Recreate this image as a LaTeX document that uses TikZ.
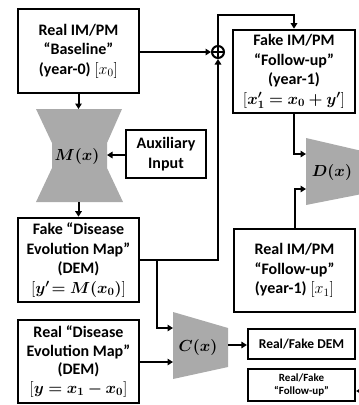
\RequirePackage{fix-cm}
\documentclass[tikz,border=0pt]{standalone}
\usepackage{amsmath,bm}
\usepackage[no-math]{fontspec}
\setmainfont{Carlito}
\usetikzlibrary{arrows.meta}
\definecolor{shapegray}{RGB}{170,170,170}
\tikzset{
  box/.style={draw, line width=2.6pt, inner sep=0pt, align=center,
    font=\bfseries\fontsize{16}{19.5}\selectfont},
  conn/.style={line width=2pt, -{Triangle[length=5.5pt,width=6.5pt]}},
  plain/.style={line width=2pt},
  lbl/.style={font=\fontsize{16}{19}\selectfont, inner sep=0pt},
  shp/.style={fill=shapegray, draw=none},
}
\begin{document}
\begin{tikzpicture}[x=1pt,y=-1pt]
\useasboundingbox (0,0) rectangle (359,405);

% boxes
\node[box, minimum width=121, minimum height=84] (base) at (78.5,51)
  {Real IM/PM\\“Baseline”\\(year-0) $[x_0]$};
\node[box, minimum width=122, minimum height=83] (fakefu) at (294,71.5)
  {Fake IM/PM\\“Follow-up”\\(year-1)\\$[\bm{x_1' = x_0 + y'}]$};
\node[box, minimum width=80, minimum height=48] (aux) at (166,154)
  {Auxiliary\\Input};
\node[box, minimum width=121, minimum height=84] (fakedem) at (78.5,260)
  {Fake “Disease\\Evolution Map”\\(DEM)\\$[\bm{y'\!= M(x_0)}]$};
\node[box, minimum width=121, minimum height=83] (realfu) at (294.5,270.5)
  {Real IM/PM\\“Follow-up”\\(year-1) $[x_1]$};
\node[box, minimum width=121, minimum height=83,
  font=\bfseries\fontsize{16}{18.5}\selectfont] (realdem) at (78.5,361.5)
  {Real “Disease\\Evolution Map”\\(DEM)\\$[\bm{y = x_1 - x_0}]$};
\node[box, line width=2.2pt, minimum width=107, minimum height=30,
  font=\bfseries\fontsize{13.5}{16}\selectfont] (rfdem) at (301.5,344)
  {Real/Fake DEM};
\node[box, line width=2.2pt, minimum width=107, minimum height=32,
  font=\bfseries\fontsize{11}{12.5}\selectfont] (rffu) at (301.5,385)
  {Real/Fake\\“Follow-up”};

% network shapes
\fill[shp] (36,109) -- (122,109) -- (107,143) -- (107,168) -- (123,202)
  -- (36,202) -- (52,168) -- (52,143) -- cycle;
\node[lbl] (mx) at (77,156) {$\bm{M(x)}$};
\fill[shp] (173,312) -- (228,328) -- (228,367) -- (173,379) -- cycle;
\node[lbl] (cx) at (198,347) {$\bm{C(x)}$};
\fill[shp] (306,138) -- (362,151) -- (362,194) -- (306,205) -- cycle;
\node[lbl] (dx) at (332,172) {$\bm{D(x)}$};

% sum
\node[draw, circle, line width=2pt, minimum size=12, inner sep=0pt] (sum) at (218,52) {};
\draw[plain] (sum.north) -- (sum.south) (sum.west) -- (sum.east);

% coordinates
\coordinate (mtop) at (78.5,109);
\coordinate (mbot) at (78.5,202);
\coordinate (mr) at (107,155);
\coordinate (cin1) at (173,328);
\coordinate (cin2) at (173,362);
\coordinate (cout) at (228,345);
\coordinate (din1) at (306,154);
\coordinate (din2) at (306,189);
\coordinate (rfin) at (362,391);
\coordinate (br) at (157,260);
\coordinate (top) at (218,15);

% connectors
\draw[conn] (base.south) -- (mtop);
\draw[conn] (mbot) -- (fakedem.north);
\draw[conn] (aux.west |- mr) -- (mr);
\draw[conn] (base.east |- sum) -- (sum.west);
\draw[conn] (sum.north) -- (top) -| (fakefu.north);
\draw[conn] (fakedem.east) -| (sum.south);
\draw[conn] (br) |- (cin1);
\draw[conn] (realdem.east |- cin2) -- (cin2);
\draw[conn] (cout) -- (rfdem.west |- cout);
\draw[conn] (rfin) -- (rffu.east |- rfin);
\draw[conn] (fakefu.south) |- (din1);
\draw[conn] (realfu.north) |- (din2);
\end{tikzpicture}
\end{document}
